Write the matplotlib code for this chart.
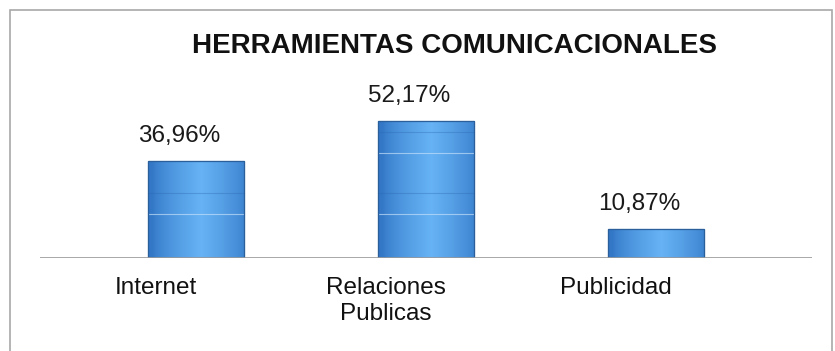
import numpy as np
import matplotlib.pyplot as plt
from matplotlib.patches import Rectangle

plt.rcParams['font.family'] = ['Liberation Sans', 'DejaVu Sans']

titulo = "HERRAMIENTAS COMUNICACIONALES"
categorias = ["Internet", "Relaciones\nPublicas", "Publicidad"]
porcentajes = [36.96, 52.17, 10.87]
etiquetas = ["36,96%", "52,17%", "10,87%"]

fig = plt.figure(figsize=(8.35, 3.51), dpi=100)

# marco gris del grafico
fig.patches.append(Rectangle((10 / 835, -0.05), 822 / 835, 1.05 - 10 / 351,
                             transform=fig.transFigure, fill=False,
                             edgecolor='#a8a8a8', linewidth=1.2))

ax = fig.add_axes([40 / 835, 93 / 351, 772 / 835, 188 / 351])
ax.set_xlim(-0.678, 2.678)
ax.set_ylim(0, 71.5)

x = np.arange(len(categorias))
ancho = 0.42
barras = ax.bar(x, porcentajes, width=ancho, color='#3a86d6',
                edgecolor='#2c64a6', linewidth=0.8, zorder=2)

# degradado horizontal tipo cilindro
t = np.linspace(0, 1, 256)
perfil = 1 - np.abs(t - 0.55) * 2
c_borde = np.array([0.20, 0.47, 0.78])
c_centro = np.array([0.40, 0.70, 0.96])
grad = c_borde[None, :] + (c_centro - c_borde)[None, :] * np.clip(perfil, 0, 1)[:, None] ** 0.7
grad = grad[None, :, :]
for b in barras:
    x0, y0 = b.get_x(), b.get_y()
    w, h = b.get_width(), b.get_height()
    im = ax.imshow(grad, extent=[x0, x0 + w, y0, y0 + h], aspect='auto',
                   interpolation='bicubic', zorder=2.5)
    im.set_clip_path(b)
    # lineas claras y oscuras del relleno
    for yy, col, a in [(16.7, '#c2def8', 0.7), (40.0, '#c2def8', 0.7),
                       (24.7, '#2d68ae', 0.35), (48.0, '#2d68ae', 0.35)]:
        if yy < h - 1:
            ax.plot([x0, x0 + w], [yy, yy], color=col, lw=0.8,
                    alpha=a, zorder=2.7)
    ax.add_patch(Rectangle((x0, y0), w, h, fill=False, edgecolor='#2a5f9c',
                           linewidth=0.9, zorder=3))

for xi, v, lab in zip(x, porcentajes, etiquetas):
    ax.annotate(lab, (xi, v), xytext=(-12, 18), textcoords='offset points',
                ha='center', va='center', fontsize=17.5, color='#1a1a1a')

for xi, cat in zip(x, categorias):
    ax.text(xi - 0.174, -0.1, cat, transform=ax.get_xaxis_transform(),
            ha='center', va='top', fontsize=17.5, color='#111111',
            linespacing=1.22)

ax.axhline(0, color='#9a9a9a', lw=1.2, zorder=4)
for s in ax.spines.values():
    s.set_visible(False)
ax.set_xticks([])
ax.set_yticks([])

fig.text(455 / 835, 1 - 46 / 351, titulo, ha='center', va='center',
         fontsize=20, fontweight='bold', color='#111111')

fig.savefig("out.png", dpi=100)
